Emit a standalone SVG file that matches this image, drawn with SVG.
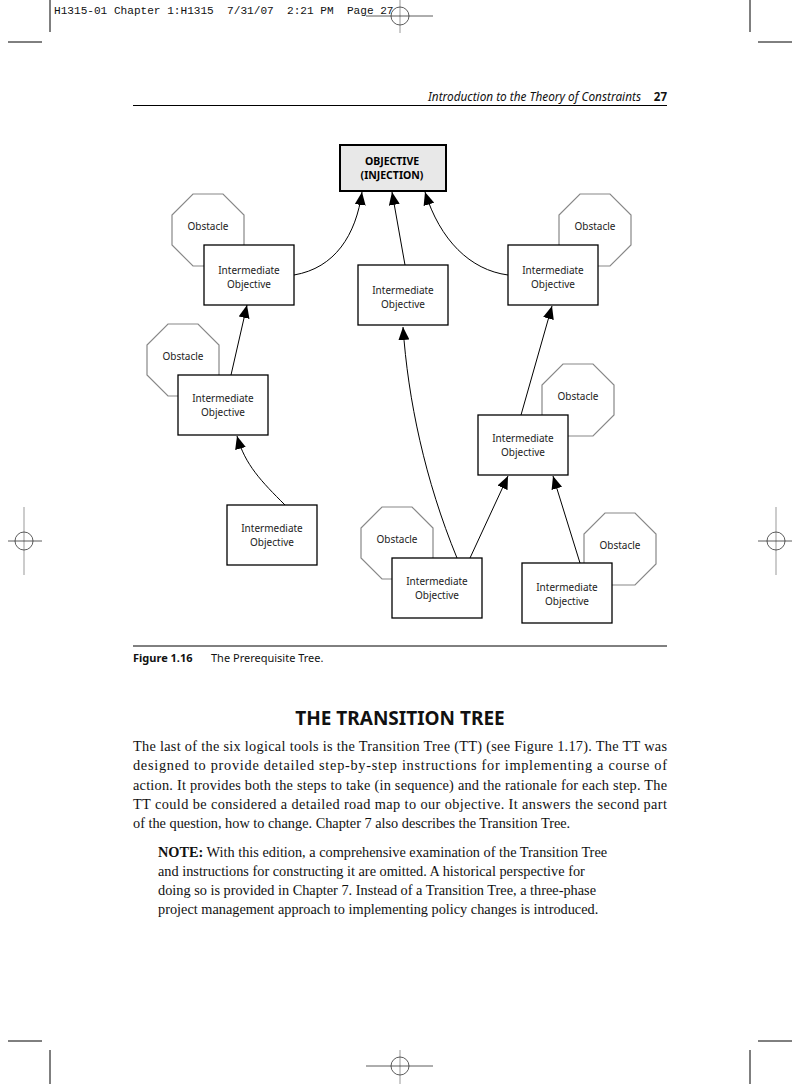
<svg xmlns="http://www.w3.org/2000/svg" width="800" height="1084" viewBox="0 0 800 1084">
<defs>
<style>
.crop{stroke:#000;stroke-width:1;fill:none}
.reg{stroke:#333;stroke-width:0.8;fill:none}
.gray{stroke:#ccc;stroke-width:2;fill:none}
.box{fill:#fff;stroke:#000;stroke-width:1.3}
.obj{fill:#e8e8e8;stroke:#000;stroke-width:2}
.oct{fill:#fff;stroke:#888;stroke-width:1.2}
.lbl{font-family:"Noto Sans","Liberation Sans",sans-serif;font-size:10px;fill:#222;text-anchor:middle}
.objt{font-family:"Noto Sans","Liberation Sans",sans-serif;font-size:10.5px;font-weight:bold;fill:#000;text-anchor:middle}
.conn{fill:none;stroke:#000;stroke-width:1}
.body{font-family:"Liberation Serif","Times New Roman",serif;font-size:14.3px;fill:#111}
.sans{font-family:"Noto Sans","Liberation Sans",sans-serif;fill:#111}
</style>
<marker id="arr" markerUnits="userSpaceOnUse" markerWidth="13" markerHeight="11" refX="13" refY="5.5" orient="auto">
<path d="M0,0 L13,5.5 L0,11 z" fill="#000"/>
</marker>
</defs>
<rect width="800" height="1084" fill="#fff"/>

<!-- crop and registration marks -->
<g id="marks">
<line class="crop" x1="50" y1="0" x2="50" y2="32"/>
<line class="crop" x1="8" y1="42" x2="42" y2="42"/>
<line class="crop" x1="750" y1="0" x2="750" y2="32"/>
<line class="crop" x1="758" y1="42" x2="792" y2="42"/>
<line class="crop" x1="50" y1="1050" x2="50" y2="1084"/>
<line class="crop" x1="8" y1="1041" x2="42" y2="1041"/>
<line class="crop" x1="750" y1="1050" x2="750" y2="1084"/>
<line class="crop" x1="758" y1="1041" x2="792" y2="1041"/>
<line class="gray" x1="400" y1="0" x2="400" y2="33"/>
<line class="reg" x1="366" y1="16" x2="433" y2="16"/>
<circle class="reg" cx="400" cy="16" r="9"/>
<line class="gray" x1="24" y1="507" x2="24" y2="575"/>
<line class="reg" x1="8" y1="541" x2="42" y2="541"/>
<circle class="reg" cx="24" cy="541" r="9"/>
<line class="gray" x1="776" y1="507" x2="776" y2="575"/>
<line class="reg" x1="758" y1="541" x2="792" y2="541"/>
<circle class="reg" cx="776" cy="541" r="9"/>
<line class="gray" x1="400" y1="1050" x2="400" y2="1084"/>
<line class="reg" x1="366" y1="1066" x2="433" y2="1066"/>
<circle class="reg" cx="400" cy="1066" r="9"/>
</g>
<text x="54" y="14" font-family="'Liberation Mono','Courier New',monospace" font-size="11.1" fill="#111" xml:space="preserve">H1315-01 Chapter 1:H1315  7/31/07  2:21 PM  Page 27</text>

<!-- running head -->
<text class="sans" x="641" y="101" font-size="11.8" font-style="italic" text-anchor="end">Introduction to the Theory of Constraints</text>
<text class="sans" x="667" y="101" font-size="11.5" font-weight="bold" text-anchor="end">27</text>
<line x1="133" y1="105.5" x2="667" y2="105.5" stroke="#000" stroke-width="1"/>

<!-- obstacles -->
<g id="obstacle1"><polygon class="oct" points="193,194 223,194 244,215 244,245 223,266 193,266 172,245 172,215"/><text class="lbl" x="208" y="230">Obstacle</text></g>
<g id="obstacle2"><polygon class="oct" points="580,194 610,194 631,215 631,245 610,266 580,266 559,245 559,215"/><text class="lbl" x="595" y="230">Obstacle</text></g>
<g id="obstacle3"><polygon class="oct" points="168,324 198,324 219,345 219,375 198,396 168,396 147,375 147,345"/><text class="lbl" x="183" y="360">Obstacle</text></g>
<g id="obstacle4"><polygon class="oct" points="563,364 593,364 614,385 614,415 593,436 563,436 542,415 542,385"/><text class="lbl" x="578" y="400">Obstacle</text></g>
<g id="obstacle5"><polygon class="oct" points="382,507 412,507 433,528 433,558 412,579 382,579 361,558 361,528"/><text class="lbl" x="397" y="543">Obstacle</text></g>
<g id="obstacle6"><polygon class="oct" points="605,513 635,513 656,534 656,564 635,585 605,585 584,564 584,534"/><text class="lbl" x="620" y="549">Obstacle</text></g>

<!-- objective -->
<g id="objective"><rect class="obj" x="340" y="145" width="106" height="46"/><text class="objt" x="392" y="165">OBJECTIVE</text><text class="objt" x="392" y="179">(INJECTION)</text></g>

<!-- intermediate objectives -->
<g id="io1"><rect class="box" x="204" y="245" width="90" height="60"/><text class="lbl" x="249" y="274">Intermediate</text><text class="lbl" x="249" y="288">Objective</text></g>
<g id="io2"><rect class="box" x="358" y="265" width="90" height="60"/><text class="lbl" x="403" y="294">Intermediate</text><text class="lbl" x="403" y="308">Objective</text></g>
<g id="io3"><rect class="box" x="508" y="245" width="90" height="60"/><text class="lbl" x="553" y="274">Intermediate</text><text class="lbl" x="553" y="288">Objective</text></g>
<g id="io4"><rect class="box" x="178" y="375" width="90" height="60"/><text class="lbl" x="223" y="402">Intermediate</text><text class="lbl" x="223" y="416">Objective</text></g>
<g id="io5"><rect class="box" x="478" y="415" width="90" height="60"/><text class="lbl" x="523" y="442">Intermediate</text><text class="lbl" x="523" y="456">Objective</text></g>
<g id="io6"><rect class="box" x="227" y="505" width="90" height="60"/><text class="lbl" x="272" y="532">Intermediate</text><text class="lbl" x="272" y="546">Objective</text></g>
<g id="io7"><rect class="box" x="392" y="558" width="90" height="60"/><text class="lbl" x="437" y="585">Intermediate</text><text class="lbl" x="437" y="599">Objective</text></g>
<g id="io8"><rect class="box" x="522" y="563" width="90" height="60"/><text class="lbl" x="567" y="591">Intermediate</text><text class="lbl" x="567" y="605">Objective</text></g>

<!-- connectors -->
<g id="connectors">
<path class="conn" marker-end="url(#arr)" d="M294,275 C335,268 356,235 362,192"/>
<path class="conn" marker-end="url(#arr)" d="M405,265 L392,192"/>
<path class="conn" marker-end="url(#arr)" d="M508,275 C470,270 440,240 425,192"/>
<path class="conn" marker-end="url(#arr)" d="M231,375 L247,305"/>
<path class="conn" marker-end="url(#arr)" d="M285,505 C262,482 245,465 237,436"/>
<path class="conn" marker-end="url(#arr)" d="M457,558 C425,480 408,400 403,327"/>
<path class="conn" marker-end="url(#arr)" d="M470,558 L508,476"/>
<path class="conn" marker-end="url(#arr)" d="M580,563 L553,476"/>
<path class="conn" marker-end="url(#arr)" d="M521,415 L552,306"/>
</g>

<!-- caption -->
<line x1="133" y1="646" x2="667" y2="646" stroke="#000" stroke-width="1"/>
<text class="sans" x="133" y="662" font-size="11" font-weight="bold">Figure 1.16</text>
<text class="sans" x="211" y="662" font-size="11" fill="#333">The Prerequisite Tree.</text>

<text class="sans" x="400" y="725" font-size="19" font-weight="bold" text-anchor="middle">THE TRANSITION TREE</text>

<text class="body" x="133" y="751" textLength="534" lengthAdjust="spacing">The last of the six logical tools is the Transition Tree (TT) (see Figure 1.17). The TT was</text>
<text class="body" x="133" y="770" textLength="534" lengthAdjust="spacing">designed to provide detailed step-by-step instructions for implementing a course of</text>
<text class="body" x="133" y="790" textLength="534" lengthAdjust="spacing">action. It provides both the steps to take (in sequence) and the rationale for each step. The</text>
<text class="body" x="133" y="809" textLength="534" lengthAdjust="spacing">TT could be considered a detailed road map to our objective. It answers the second part</text>
<text class="body" x="133" y="828">of the question, how to change. Chapter 7 also describes the Transition Tree.</text>

<text class="body" x="158" y="857"><tspan font-weight="bold">NOTE:</tspan> With this edition, a comprehensive examination of the Transition Tree</text>
<text class="body" x="158" y="876">and instructions for constructing it are omitted. A historical perspective for</text>
<text class="body" x="158" y="895">doing so is provided in Chapter 7. Instead of a Transition Tree, a three-phase</text>
<text class="body" x="158" y="914">project management approach to implementing policy changes is introduced.</text>
</svg>
